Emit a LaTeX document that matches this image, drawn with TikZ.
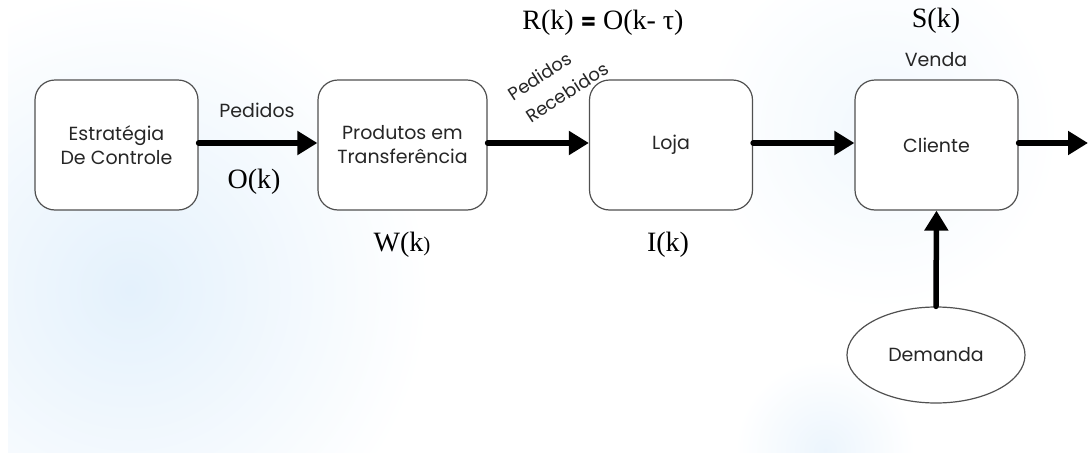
\documentclass[tikz,border=0pt]{standalone}
\usepackage[no-math]{fontspec}
\setmainfont{Poppins}
\newfontfamily\labelserif{Liberation Serif}
\usetikzlibrary{arrows.meta,shapes.geometric}
\definecolor{glow}{RGB}{228,241,252}
\definecolor{edge}{RGB}{80,80,80}
\tikzset{
  blockbox/.style={draw=edge, line width=1.2pt, rounded corners=20pt, fill=white,
    minimum width=163pt, minimum height=130pt, align=center, inner sep=0pt,
    font=\fontsize{19}{24}\selectfont, text=black!85},
  ovalbox/.style={ellipse, draw=edge, line width=1.2pt, fill=white,
    minimum width=178pt, minimum height=96pt, inner sep=0pt,
    font=\fontsize{19}{24}\selectfont, text=black!85},
  flow/.style={line width=5.5pt, line cap=round, -{Triangle[length=20pt,width=23pt]}},
  wordlabel/.style={font=\fontsize{19}{23}\selectfont, text=black!85, align=center},
  slanted/.style={wordlabel, rotate=33, align=left, inner sep=0pt,
    font=\fontsize{18}{28}\selectfont},
  mathlabel/.style={font=\labelserif\fontsize{28}{32}\selectfont, text=black}
}
\begin{document}
\begin{tikzpicture}[x=1pt,y=-1pt]
\useasboundingbox (0,0) rectangle (1088,453);
% soft background glow
\begin{scope}
  \clip (8,0) rectangle (1088,452);
  \shade[inner color=glow, outer color=white] (130,290) circle (300);
  \shade[inner color=glow!50, outer color=white] (880,130) circle (180);
  \shade[inner color=glow!70, outer color=white] (825,450) circle (90);
\end{scope}

% blocks
\node[blockbox] (ctrl) at (116.5,145) {Estratégia\\De Controle};
\node[blockbox, minimum width=169pt] (transit) at (402.5,145) {Produtos em\\Transferência};
\node[blockbox] (store) at (671,145) {Loja};
\node[blockbox] (client) at (936.5,145) {Cliente};
\node[ovalbox] (demand) at (936,355) {Demanda};
\coordinate (out) at (1088,143);

% material and order flows
\draw[flow] (ctrl.east |- 0,143) -- (transit.west |- 0,143);
\draw[flow] (transit.east |- 0,143) -- (store.west |- 0,143);
\draw[flow] (store.east |- 0,143) -- (client.west |- 0,143);
\draw[flow] (client.east |- 0,143) -- (out);
\draw[flow] (demand.north) -- (client.south);

% labels
\node[mathlabel] (lblO) at (254,182) {O(k)};
\node[wordlabel] (lblorders) at (257,110) {Pedidos};
\node[mathlabel] (lblW) at (402,245) {W(k{\fontsize{21}{23}\selectfont)}};
\node[mathlabel] (lblI) at (668,245) {I(k)};
\node[mathlabel] (lblR) at (603,23) {R(k) {\rmfamily\bfseries\fontsize{22}{26}\selectfont=} O(k- τ)};
\node[slanted] (lblrec) at (558,81) {Pedidos\\\hspace*{3pt}Recebidos};
\node[mathlabel] (lblS) at (936,21) {S(k)};
\node[wordlabel] (lblsale) at (936,60) {Venda};
\end{tikzpicture}
\end{document}
